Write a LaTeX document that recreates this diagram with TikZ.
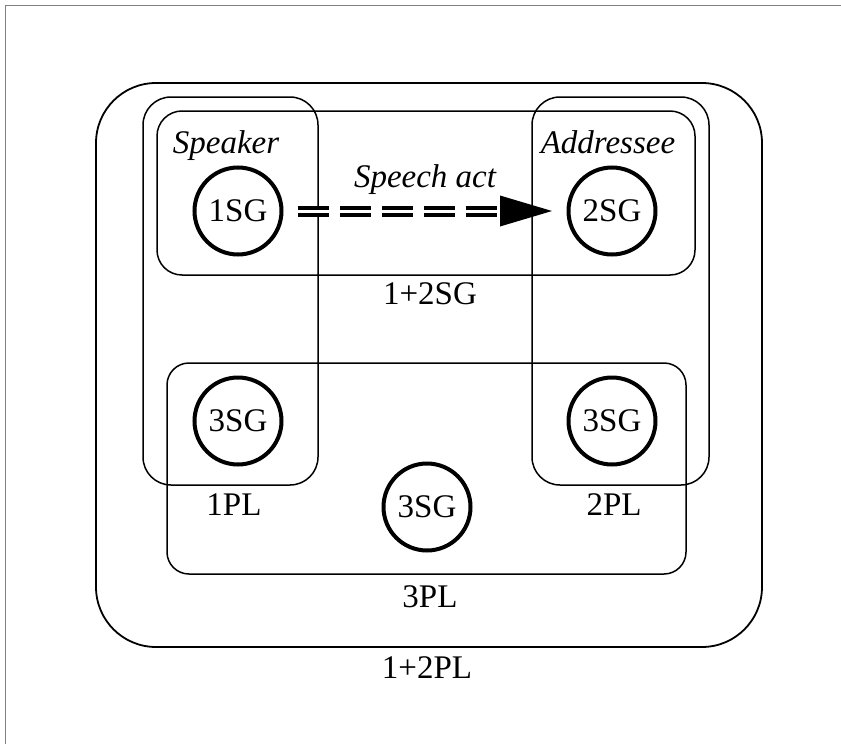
\documentclass[tikz,border=0pt]{standalone}
\usepackage{fontspec}
\setmainfont{Liberation Serif}
\begin{document}
\begin{tikzpicture}[x=1pt,y=-1pt,
  every node/.style={font=\fontsize{33}{40}\selectfont},
  setbox/.style={draw, line width=1.5pt, rectangle, inner sep=0pt, outer sep=0pt},
  person/.style={draw, circle, line width=4pt, minimum size=87pt, inner sep=0pt},
  lbl/.style={anchor=base, inner sep=0pt},
  speechline/.style={draw, line width=4pt, double, double distance=3pt, dash pattern=on 31pt off 11pt}
]
\useasboundingbox (0,0) rectangle (841,744);
\draw[gray, line width=1pt] (5.5,744) -- (5.5,5.5) -- (841,5.5);

% set boxes
\node[setbox, line width=1.8pt, rounded corners=60pt, minimum width=666pt, minimum height=564pt] (pl12) at (429,365) {};
\node[setbox, rounded corners=28pt, minimum width=175pt, minimum height=388pt] (pl1) at (230.5,291) {};
\node[setbox, rounded corners=28pt, minimum width=177pt, minimum height=388pt] (pl2) at (620.5,291) {};
\node[setbox, rounded corners=25pt, minimum width=538pt, minimum height=164pt] (sg12) at (426,193) {};
\node[setbox, rounded corners=22pt, minimum width=519pt, minimum height=211pt] (pl3) at (426.5,468.5) {};

% persons
\node[person] (sg1) at (238,211) {1SG};
\node[person] (sg2) at (612,211) {2SG};
\node[person] (sg3a) at (238,421) {3SG};
\node[person] (sg3b) at (612,421) {3SG};
\node[person] (sg3c) at (427,507) {3SG};

% labels
\node[lbl] (speaker) at (226,153) {\itshape Speaker};
\node[lbl] (addressee) at (608,153) {\itshape Addressee};
\node[lbl] (act) at (425,187) {\itshape Speech act};
\node[lbl] (l12sg) at (430,304) {1+2SG};
\node[lbl] (l1pl) at (234,515) {1PL};
\node[lbl] (l2pl) at (614,515) {2PL};
\node[lbl] (l3pl) at (430,607) {3PL};
\node[lbl] (l12pl) at (427,678) {1+2PL};

% speech act arrow
\coordinate (tipbase) at (500,211);
\coordinate (tip) at (552,211);
\draw[speechline, shorten <=14.5pt] (sg1) -- (tipbase);
\fill (tip) -- ([yshift=15.5pt]tipbase) -- ([yshift=-15.5pt]tipbase) -- cycle;
\end{tikzpicture}
\end{document}
